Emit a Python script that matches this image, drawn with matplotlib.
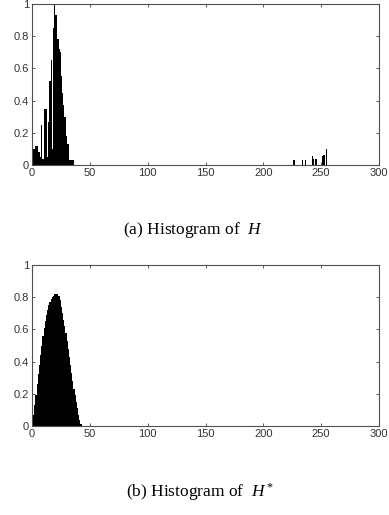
import numpy as np
import matplotlib
matplotlib.use('Agg')
import matplotlib.pyplot as plt

# 直方圖 H：灰階值與對應的正規化高度
h_bins = [0, 1, 2, 3, 4, 5, 6, 7, 8, 9, 10, 11, 12, 13, 14, 15, 16, 17,
          18, 19, 20, 21, 22, 23, 24, 25, 26, 27, 28, 29, 30, 31, 32, 33, 34, 35,
          226, 233, 236, 242, 243, 245, 251, 252, 254]
h_vals = [0.12, 0.10, 0.10, 0.12, 0.12, 0.08, 0.08, 0.05, 0.25, 0.04, 0.35, 0.35,
          0.35, 0.05, 0.27, 0.52, 0.65, 0.10, 0.85, 1.00, 0.93, 0.93, 0.78, 0.72,
          0.70, 0.55, 0.45, 0.37, 0.30, 0.18, 0.13, 0.13, 0.03, 0.03, 0.03, 0.03,
          0.03, 0.03, 0.03, 0.055, 0.04, 0.035, 0.055, 0.06, 0.10]

# 直方圖 H*
hs_bins = list(range(0, 43))
hs_vals = [0.00, 0.07, 0.13, 0.19, 0.26, 0.32, 0.38, 0.44, 0.50, 0.56, 0.61,
           0.65, 0.69, 0.72, 0.75, 0.77, 0.79, 0.80, 0.81, 0.82, 0.82, 0.82,
           0.81, 0.78, 0.74, 0.70, 0.66, 0.62, 0.58, 0.53, 0.48, 0.43, 0.38,
           0.33, 0.28, 0.23, 0.19, 0.15, 0.11, 0.07, 0.04, 0.01, 0.00]

x_ticks = [0, 50, 100, 150, 200, 250, 300]
y_ticks = [0, 0.2, 0.4, 0.6, 0.8, 1]
y_labels = ['0', '0.2', '0.4', '0.6', '0.8', '1']

plt.rcParams['mathtext.fontset'] = 'custom'
plt.rcParams['mathtext.it'] = 'Liberation Serif:italic'
plt.rcParams['mathtext.rm'] = 'Liberation Serif'

fig = plt.figure(figsize=(3.89, 5.15), dpi=100)
ax1 = fig.add_axes([32 / 389, 1 - 165 / 515, 347 / 389, 161 / 515])
ax2 = fig.add_axes([32 / 389, 1 - 426 / 515, 347 / 389, 161 / 515])

# 上圖保留細白縫，下圖填滿
ax1.bar(h_bins, h_vals, width=1.0, align='edge', color='black', linewidth=0)
ax2.bar(hs_bins, hs_vals, width=1.0, align='edge', color='black',
        edgecolor='black', linewidth=0.6, antialiased=False)

for ax in (ax1, ax2):
    ax.set_xlim(0, 300)
    ax.set_ylim(0, 1)
    ax.set_xticks(x_ticks)
    ax.set_xticklabels([str(t) for t in x_ticks])
    ax.set_yticks(y_ticks)
    ax.set_yticklabels(y_labels)
    ax.tick_params(direction='in', top=True, right=True, length=2.5, width=0.6,
                   colors='#404040', labelsize=8, pad=2)
    for lab in ax.get_xticklabels() + ax.get_yticklabels():
        lab.set_family('Liberation Sans')
        lab.set_color('#333333')
    for s in ax.spines.values():
        s.set_color('#505050')
        s.set_linewidth(0.8)

fig.text(0.496, 1 - 230 / 515, r'(a) Histogram of  $H$', ha='center', va='center',
         family='Liberation Serif', fontsize=12.5)
fig.text(0.514, 1 - 492 / 515, r'(b) Histogram of  $H^*$', ha='center', va='center',
         family='Liberation Serif', fontsize=12.5)

fig.savefig('out.png', dpi=100)
